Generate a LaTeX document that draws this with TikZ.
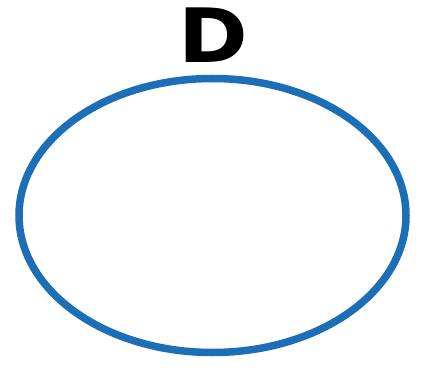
\documentclass[tikz,border=0pt]{standalone}
\usepackage{fontspec}
\newfontfamily\labelfont{DejaVu Sans}
\usetikzlibrary{shapes.geometric}
\definecolor{setblue}{RGB}{28,110,182}

\begin{document}
\begin{tikzpicture}[x=1pt,y=1pt,
  every node/.style={inner sep=0pt,outer sep=0pt}]
  \useasboundingbox (0,0) rectangle (433,378);
  \node[ellipse,draw=setblue,line width=7.5pt,
    minimum width=387pt,minimum height=274pt] (setD) at (212.5,162.5) {};
  \node[anchor=base,xscale=1.12,font=\labelfont\bfseries\fontsize{75}{80}\selectfont]
    (labD) at (213,315) {D};
\end{tikzpicture}
\end{document}
